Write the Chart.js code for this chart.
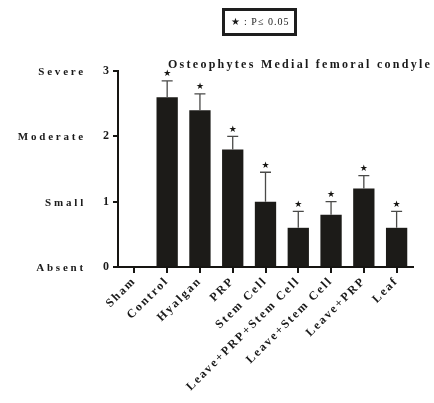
<!DOCTYPE html>
<html>
<head>
<meta charset="utf-8">
<script src="https://cdn.jsdelivr.net/npm/chart.js@4/dist/chart.umd.min.js"></script>
<style>
  html, body { margin: 0; padding: 0; background: #fff; }
  #wrap { width: 434px; height: 403px; position: relative; }
</style>
</head>
<body>
<div id="wrap"><canvas id="c" width="434" height="403"></canvas></div>
<script>
// Osteophyte grade, medial femoral condyle (mean + SEM)
const groups = ["Sham", "Control", "Hyalgan", "PRP", "Stem Cell",
  "Leave+PRP+Stem Cell", "Leave+Stem Cell", "Leave+PRP", "Leaf"];
const means = [0, 2.6, 2.4, 1.8, 1.0, 0.6, 0.8, 1.2, 0.6];
const sems = [0, 0.25, 0.25, 0.2, 0.45, 0.25, 0.2, 0.2, 0.25];
const significant = [false, true, true, true, true, true, true, true, true];
const gradeTicks = [0, 1, 2, 3];
const gradeNames = ["Absent", "Small", "Moderate", "Severe"];
const chartTitle = "Osteophytes Medial femoral condyle";
const keyText = "\u2605 : P\u2264 0.05";

const serif = '"Liberation Serif", "Times New Roman", serif';
const ink = '#161512';

// letter-spaced text across the whole canvas (ticks included)
const spacing = {
  id: 'spacing',
  beforeUpdate(chart) { chart.ctx.letterSpacing = '2px'; },
  beforeDraw(chart) { chart.ctx.letterSpacing = '2px'; }
};

// upward SEM whiskers with caps, plus significance stars
const errorBars = {
  id: 'errorBars',
  afterDatasetsDraw(chart) {
    const ctx = chart.ctx;
    const y = chart.scales.y;
    const meta = chart.getDatasetMeta(0);
    ctx.save();
    ctx.letterSpacing = '0px';
    meta.data.forEach((bar, i) => {
      const top = y.getPixelForValue(means[i] + sems[i]);
      if (sems[i] > 0) {
        ctx.strokeStyle = '#4a4a48';
        ctx.lineWidth = 1.3;
        ctx.beginPath();
        ctx.moveTo(bar.x, bar.y);
        ctx.lineTo(bar.x, top);
        ctx.moveTo(bar.x - 5.5, top);
        ctx.lineTo(bar.x + 5.5, top);
        ctx.stroke();
      }
      if (significant[i]) {
        ctx.fillStyle = ink;
        ctx.font = '9px "DejaVu Sans", sans-serif';
        ctx.textAlign = 'center';
        ctx.textBaseline = 'middle';
        ctx.fillText('\u2605', bar.x, top - 7);
      }
    });
    ctx.restore();
  }
};

// grade names beside the numeric ticks, title, and significance key
const annotations = {
  id: 'annotations',
  afterDraw(chart) {
    const ctx = chart.ctx;
    const y = chart.scales.y;
    ctx.save();
    ctx.fillStyle = '#1a1a1a';
    ctx.textBaseline = 'middle';

    ctx.font = 'bold 11px ' + serif;
    ctx.letterSpacing = '2.8px';
    ctx.textAlign = 'right';
    gradeTicks.forEach((v, i) => {
      ctx.fillText(gradeNames[i], 86, y.getPixelForValue(v) + 1);
    });

    ctx.font = 'bold 12px ' + serif;
    ctx.letterSpacing = '0px';
    const plain = ctx.measureText(chartTitle).width;
    const ls = (264 - plain) / (chartTitle.length);
    ctx.letterSpacing = ls.toFixed(2) + 'px';
    ctx.textAlign = 'left';
    ctx.fillText(chartTitle, 168, 64.5);

    ctx.strokeStyle = '#1e1e1e';
    ctx.lineWidth = 3;
    ctx.strokeRect(223.5, 9.5, 72, 25);
    ctx.letterSpacing = '1px';
    ctx.font = '10px ' + serif;
    ctx.textAlign = 'center';
    ctx.fillText(keyText, 260, 22.5);
    ctx.restore();
  }
};

new Chart(document.getElementById('c'), {
  type: 'bar',
  data: {
    labels: groups,
    datasets: [{
      data: means,
      backgroundColor: '#1c1b18',
      borderWidth: 0,
      barPercentage: 0.65,
      categoryPercentage: 1.0
    }]
  },
  options: {
    responsive: false,
    animation: false,
    layout: { padding: { left: 0, top: 71, right: 21, bottom: 0 } },
    plugins: { legend: { display: false }, tooltip: { enabled: false }, title: { display: false } },
    scales: {
      x: {
        offset: true,
        afterFit(s) { s.height = 136; },
        border: { display: true, color: ink, width: 2 },
        grid: { display: true, drawOnChartArea: false, offset: false, tickLength: 6, color: ink, lineWidth: 2 },
        ticks: {
          autoSkip: false, minRotation: 45, maxRotation: 45, padding: 1,
          color: '#1a1a1a',
          font: { family: serif, size: 12, weight: 'bold' }
        }
      },
      y: {
        min: 0, max: 3,
        afterFit(s) { s.width = 118; },
        afterBuildTicks(s) { s.ticks = gradeTicks.map(v => ({ value: v })); },
        border: { display: true, color: ink, width: 2 },
        grid: { display: true, drawOnChartArea: false, tickLength: 5, color: ink, lineWidth: 2 },
        ticks: {
          padding: 2,
          color: '#1a1a1a',
          font: { family: serif, size: 12, weight: 'bold' }
        }
      }
    }
  },
  plugins: [spacing, errorBars, annotations]
});
</script>
</body>
</html>
